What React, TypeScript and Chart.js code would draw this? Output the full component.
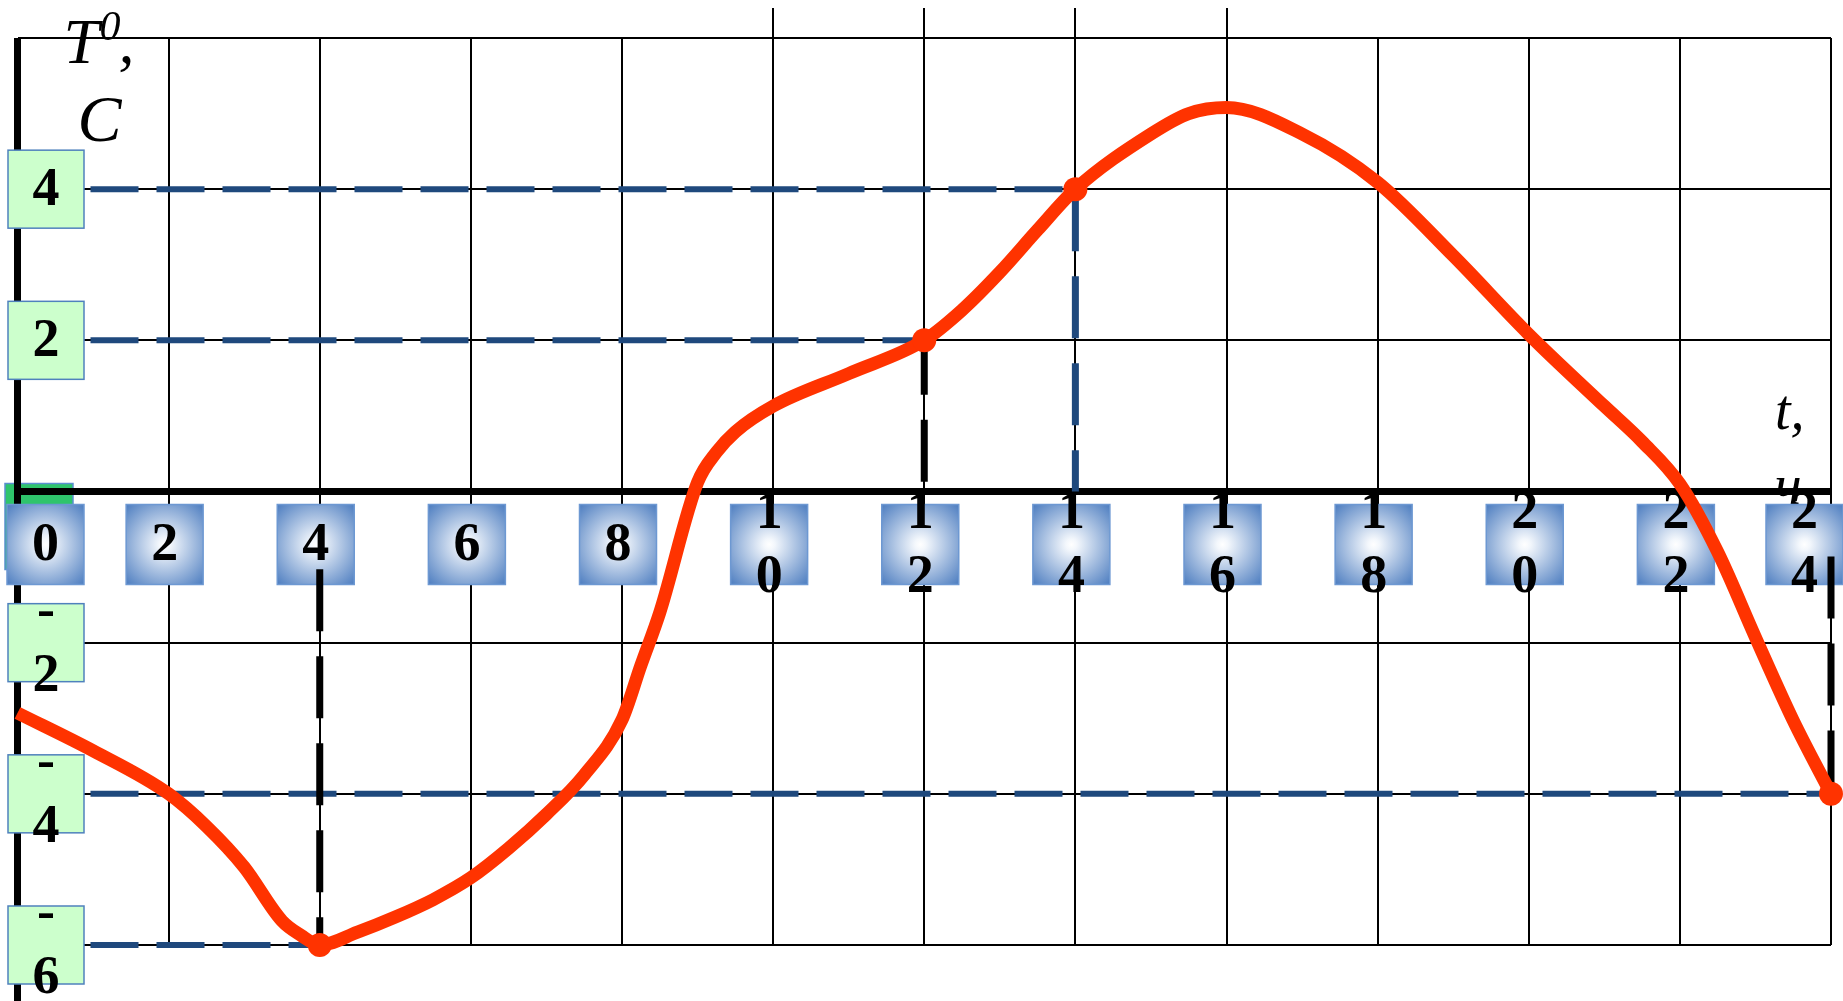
import React, { useEffect, useRef } from 'react';
import { Chart, registerables } from 'chart.js';

Chart.register(...registerables);

const W = 1843;
const H = 1001;

// ---- data ----
const hours = [0, 1, 2, 2.5, 3, 3.5, 3.75, 4, 4.5, 5, 5.5, 6, 6.5, 7, 7.5, 8, 8.25, 8.5, 9, 9.25, 9.5, 10, 11, 12, 12.5, 13, 13.5, 14, 15, 15.5, 16, 17, 18, 19, 20, 21, 21.5, 22, 22.5, 23, 23.5, 24];
const temps = [-2.93, -3.43, -4.0, -4.43, -4.97, -5.68, -5.87, -6, -5.83, -5.63, -5.4, -5.11, -4.72, -4.27, -3.75, -3.02, -2.3, -1.6, 0.12, 0.52, 0.79, 1.13, 1.56, 2, 2.4, 2.9, 3.46, 4, 4.73, 5.0, 5.08, 4.73, 4.09, 3.12, 2.08, 1.13, 0.66, 0.1, -0.8, -1.93, -3.03, -4];
const markerHours = [4, 12, 14, 24];

const xTickValues = [0, 2, 4, 6, 8, 10, 12, 14, 16, 18, 20, 22, 24];
const xTickLabels = ['0', '2', '4', '6', '8', '10', '12', '14', '16', '18', '20', '22', '24'];
const yTickValues = [4, 2, -2, -4, -6];
const yTickLabels = ['4', '2', '-2', '-4', '-6'];

const hGuideLevels = [4, 2, -4, -6];
const hGuideEnds = [14, 12, 24, 4];
const blueVGuideHours = [14];
const blueVGuideFrom = [4];
const blueVGuideTo = [0];
const blackVGuideHours = [12, 4, 24];
const blackVGuideFrom = [0.13, -1.03, -0.86];
const blackVGuideTo = [2, -6, -4];
const extendedGridHours = [10, 12, 14, 16];

const yTitle = ['T', '0', ',', 'C'];
const xTitle = ['t,', 'ч'];

const FONT = '"Liberation Serif", "Times New Roman", serif';

function segData(hs: number[], from: number[], to: number[]) {
  const out: { x: number; y: number | null }[] = [];
  hs.forEach((h, i) => {
    out.push({ x: h, y: from[i] });
    out.push({ x: h, y: to[i] });
    out.push({ x: h, y: null });
  });
  return out;
}

function hData() {
  const out: { x: number; y: number | null }[] = [];
  hGuideLevels.forEach((lv, i) => {
    out.push({ x: 0, y: lv });
    out.push({ x: hGuideEnds[i], y: lv });
    out.push({ x: hGuideEnds[i], y: null });
  });
  return out;
}

function drawLabelText(ctx: CanvasRenderingContext2D, text: string, cx: number, cy: number) {
  const lines = text.split('');
  const lh = 64;
  ctx.fillStyle = '#000';
  ctx.font = `bold 54px ${FONT}`;
  ctx.textAlign = 'center';
  ctx.textBaseline = 'middle';
  lines.forEach((ch, i) => {
    ctx.fillText(ch, cx, cy + 2 + (i - (lines.length - 1) / 2) * lh);
  });
}

const decorPlugin = {
  id: 'decor',
  beforeDatasetsDraw(chart: any) {
    const ctx: CanvasRenderingContext2D = chart.ctx;
    const xs = chart.scales.x;
    const ys = chart.scales.y;
    const area = chart.chartArea;
    const axisY = ys.getPixelForValue(0);
    const axisX = xs.getPixelForValue(0);
    ctx.save();
    // extended grid lines above the plot
    ctx.strokeStyle = '#000';
    ctx.lineWidth = 2;
    extendedGridHours.forEach((h) => {
      const px = Math.round(xs.getPixelForValue(h));
      ctx.beginPath();
      ctx.moveTo(px, 8);
      ctx.lineTo(px, area.top);
      ctx.stroke();
    });
    // titles
    ctx.fillStyle = '#000';
    ctx.textAlign = 'left';
    ctx.textBaseline = 'alphabetic';
    ctx.font = `italic 64px ${FONT}`;
    ctx.fillText(yTitle[0], axisX + 46, 63);
    ctx.font = `italic 42px ${FONT}`;
    ctx.fillText(yTitle[1], axisX + 82, 40);
    ctx.font = `italic 64px ${FONT}`;
    ctx.fillText(yTitle[2], axisX + 101, 63);
    ctx.font = `italic 66px ${FONT}`;
    ctx.fillText(yTitle[3], axisX + 60, 141);
    ctx.font = `italic 56px ${FONT}`;
    ctx.fillText(xTitle[0], area.right - 56, axisY - 63);
    ctx.fillText(xTitle[1], area.right - 56, axisY + 12);
    // hidden green zero box
    ctx.fillStyle = '#2fc46c';
    ctx.fillRect(5, axisY - 8, 68, 86);
    ctx.strokeStyle = '#5b8fd0';
    ctx.lineWidth = 1.5;
    ctx.strokeRect(5, axisY - 8, 68, 86);
    // thick axes
    ctx.strokeStyle = '#000';
    ctx.lineWidth = 7;
    ctx.beginPath();
    ctx.moveTo(axisX, area.top);
    ctx.lineTo(axisX, H);
    ctx.stroke();
    ctx.beginPath();
    ctx.moveTo(axisX - 3.5, axisY);
    ctx.lineTo(area.right, axisY);
    ctx.stroke();
    ctx.restore();
  },
  beforeDatasetDraw(chart: any, args: any) {
    if (chart.data.datasets[args.index].label !== 'blackGuides') return;
    const ctx: CanvasRenderingContext2D = chart.ctx;
    const xs = chart.scales.x;
    const ys = chart.scales.y;
    const axisY = ys.getPixelForValue(0);
    const axisX = xs.getPixelForValue(0);
    ctx.save();
    // y labels
    yTickValues.forEach((v, i) => {
      const bw = 76;
      const bh = 78;
      const cx = axisX + 28.5;
      const cy = ys.getPixelForValue(v);
      ctx.fillStyle = '#ccffcc';
      ctx.fillRect(cx - bw / 2, cy - bh / 2, bw, bh);
      ctx.strokeStyle = '#4f81bd';
      ctx.lineWidth = 1.5;
      ctx.strokeRect(cx - bw / 2, cy - bh / 2, bw, bh);
      drawLabelText(ctx, yTickLabels[i], cx, cy);
    });
    // x labels
    xTickValues.forEach((v, i) => {
      const bw = 77;
      const bh = 80;
      let cx = xs.getPixelForValue(v) - 4;
      cx = Math.max(7 + bw / 2, Math.min(W - bw / 2, cx));
      const cy = axisY + 53;
      const g = ctx.createRadialGradient(cx, cy, 0, cx, cy, 56);
      g.addColorStop(0, '#ffffff');
      g.addColorStop(0.1, '#f3f7fc');
      g.addColorStop(1, '#4a7bbf');
      ctx.fillStyle = g;
      ctx.fillRect(cx - bw / 2, cy - bh / 2, bw, bh);
      ctx.strokeStyle = '#6d98d2';
      ctx.lineWidth = 1.5;
      ctx.strokeRect(cx - bw / 2, cy - bh / 2, bw, bh);
      drawLabelText(ctx, xTickLabels[i], cx, cy);
    });
    ctx.restore();
  },
};

export default function App() {
  const ref = useRef<HTMLCanvasElement>(null);
  useEffect(() => {
    if (!ref.current) return;
    const chart = new Chart(ref.current, {
      type: 'line',
      data: {
        datasets: [
          {
            label: 'temp',
            data: hours.map((h, i) => ({ x: h, y: temps[i] })),
            borderColor: '#ff3300',
            backgroundColor: '#ff3300',
            borderWidth: 13,
            pointRadius: hours.map((h) => (markerHours.includes(h) ? 12 : 0)),
            pointBackgroundColor: '#ff3300',
            pointBorderWidth: 0,
            cubicInterpolationMode: 'monotone',
            borderCapStyle: 'butt',
            borderJoinStyle: 'round',
            clip: false,
            order: 0,
          } as any,
          {
            label: 'blackGuides',
            data: segData(blackVGuideHours, blackVGuideFrom, blackVGuideTo),
            borderColor: '#000000',
            borderWidth: 7,
            borderDash: [62, 25],
            pointRadius: 0,
            spanGaps: false,
            clip: false,
            order: 1,
          } as any,
          {
            label: 'blueVGuides',
            data: segData(blueVGuideHours, blueVGuideFrom, blueVGuideTo),
            borderColor: '#1f497d',
            borderWidth: 7,
            borderDash: [62, 25],
            pointRadius: 0,
            spanGaps: false,
            clip: false,
            order: 2,
          } as any,
          {
            label: 'blueHGuides',
            data: hData(),
            borderColor: '#1f497d',
            borderWidth: 6,
            borderDash: [48, 18],
            borderDashOffset: -7,
            pointRadius: 0,
            spanGaps: false,
            clip: false,
            order: 3,
          } as any,
        ],
      },
      options: {
        responsive: false,
        devicePixelRatio: 1,
        animation: false,
        events: [],
        layout: { padding: { left: 17.5, right: 12, top: 38, bottom: 56 } },
        plugins: { legend: { display: false }, tooltip: { enabled: false } },
        scales: {
          x: {
            type: 'linear',
            min: 0,
            max: 24,
            ticks: { stepSize: 2, display: false },
            grid: { color: '#000', lineWidth: 2, drawTicks: false },
            border: { display: false },
          },
          y: {
            type: 'linear',
            min: -6,
            max: 6,
            ticks: { stepSize: 2, display: false },
            grid: { color: '#000', lineWidth: 2, drawTicks: false },
            border: { display: false },
          },
        },
      },
      plugins: [decorPlugin],
    } as any);
    return () => chart.destroy();
  }, []);
  return (
    <div style={{ position: 'absolute', left: 0, top: 0, width: W, height: H, background: '#fff' }}>
      <canvas ref={ref} width={W} height={H} style={{ display: 'block', width: W, height: H }} />
    </div>
  );
}
